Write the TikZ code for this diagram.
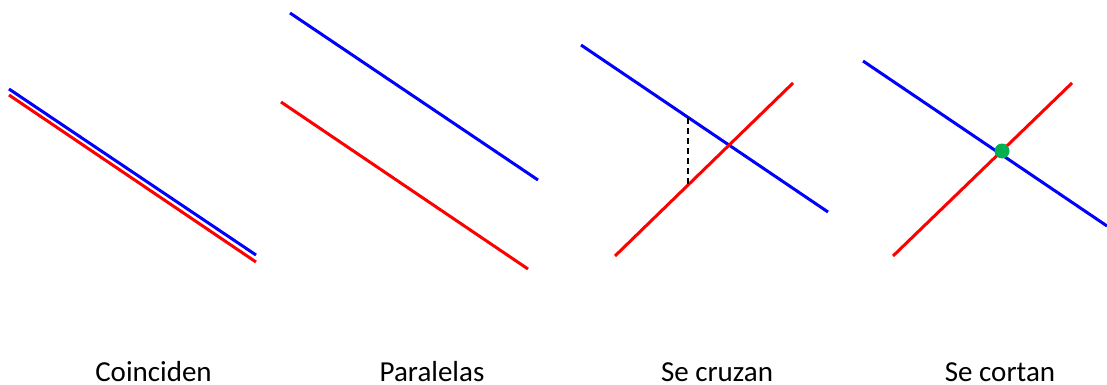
\documentclass[tikz,border=0pt]{standalone}
\usepackage{fontspec}
\setmainfont{Carlito}
\definecolor{ptgreen}{RGB}{0,176,80}
\begin{document}
\begin{tikzpicture}[x=1pt,y=-1pt,
  bluel/.style={draw=blue,line width=3pt},
  redl/.style={draw=red,line width=3pt},
  lbl/.style={anchor=base,font=\fontsize{29}{34}\selectfont,inner sep=0pt},
  dashl/.style={draw=black,line width=1.3pt,dash pattern=on 6pt off 4pt}]
\useasboundingbox (0,0) rectangle (1107,385);
\clip (0,0) rectangle (1107,385);
% Coinciden
\coordinate (b1s) at (9,89);   \coordinate (b1e) at (256,255);
\coordinate (r1s) at (9,95);   \coordinate (r1e) at (256,262);
\draw[bluel] (b1s) -- (b1e);
\draw[redl] (r1s) -- (r1e);
% Paralelas
\coordinate (b2s) at (290,13);  \coordinate (b2e) at (538,180);
\coordinate (r2s) at (281,102); \coordinate (r2e) at (528,269);
\draw[bluel] (b2s) -- (b2e);
\draw[redl] (r2s) -- (r2e);
% Se cruzan
\coordinate (b3s) at (581,45);  \coordinate (b3e) at (828,212);
\coordinate (r3s) at (615,256); \coordinate (r3e) at (793,83);
\coordinate (d3t) at (688,118); \coordinate (d3b) at (688,185);
\draw[bluel] (b3s) -- (b3e);
\draw[redl] (r3s) -- (r3e);
\draw[dashl] (d3t) -- (d3b);
% Se cortan
\coordinate (b4s) at (863,61);  \coordinate (b4e) at (1107,226);
\coordinate (r4s) at (893,256); \coordinate (r4e) at (1072,83);
\draw[bluel] (b4s) -- (b4e);
\draw[redl] (r4s) -- (r4e);
\node[circle,fill=ptgreen,minimum size=15pt,inner sep=0pt] (p4) at (1002,151) {};
% labels
\node[lbl] (t1) at (153.5,381) {Coinciden};
\node[lbl] (t2) at (432,381) {Paralelas};
\node[lbl] (t3) at (717,381) {Se cruzan};
\node[lbl] (t4) at (1000,381) {Se cortan};
\end{tikzpicture}
\end{document}
